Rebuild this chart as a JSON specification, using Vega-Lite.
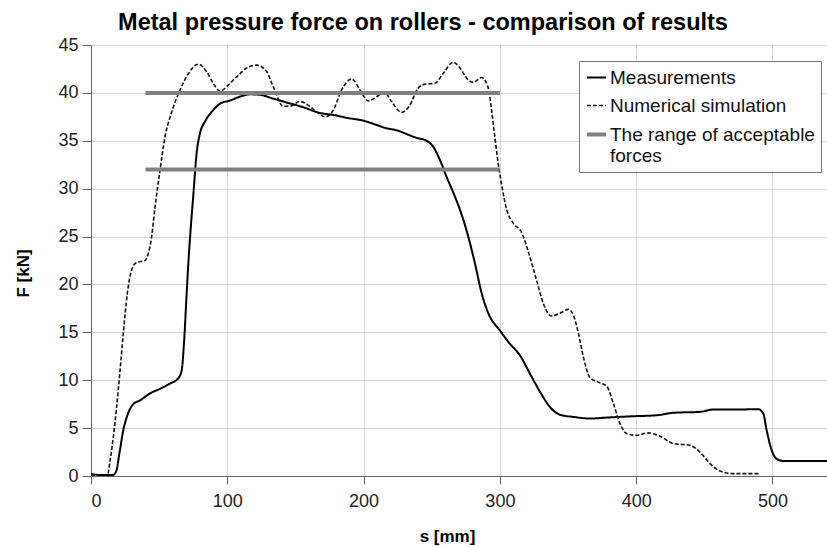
{
  "$schema": "https://vega.github.io/schema/vega-lite/v6.json",
  "autosize": "none",
  "width": 736,
  "height": 431,
  "padding": {"left": 91, "top": 45, "right": 0, "bottom": 71},
  "background": "white",
  "title": {
    "text": "Metal pressure force on rollers - comparison of results",
    "font": "Liberation Sans",
    "fontSize": 23.5,
    "fontWeight": "bold",
    "color": "#000000",
    "anchor": "middle",
    "dx": -36,
    "dy": 2
  },
  "config": {
    "view": {"stroke": null},
    "axis": {
      "labelFont": "Liberation Sans",
      "labelFontSize": 18,
      "labelColor": "#222222",
      "titleFont": "Liberation Sans",
      "titleFontSize": 17,
      "titleFontWeight": "bold",
      "titleColor": "#000000",
      "domainColor": "#666666",
      "tickColor": "#666666",
      "gridColor": "#d6d6d6",
      "gridWidth": 1
    }
  },
  "data": {
    "values": [
      {"series": "Measurements", "seg": "m", "s": 0, "F": 0.2},
      {"series": "Measurements", "seg": "m", "s": 8, "F": 0.1},
      {"series": "Measurements", "seg": "m", "s": 16, "F": 0.1},
      {"series": "Measurements", "seg": "m", "s": 18.5, "F": 0.5},
      {"series": "Measurements", "seg": "m", "s": 21, "F": 2.5},
      {"series": "Measurements", "seg": "m", "s": 23.7, "F": 4.8},
      {"series": "Measurements", "seg": "m", "s": 26.6, "F": 6.3},
      {"series": "Measurements", "seg": "m", "s": 31, "F": 7.5},
      {"series": "Measurements", "seg": "m", "s": 36, "F": 7.9},
      {"series": "Measurements", "seg": "m", "s": 43, "F": 8.6},
      {"series": "Measurements", "seg": "m", "s": 50.5, "F": 9.1},
      {"series": "Measurements", "seg": "m", "s": 58, "F": 9.65},
      {"series": "Measurements", "seg": "m", "s": 64, "F": 10.2},
      {"series": "Measurements", "seg": "m", "s": 66.5, "F": 11},
      {"series": "Measurements", "seg": "m", "s": 68.2, "F": 13.8},
      {"series": "Measurements", "seg": "m", "s": 70.2, "F": 19.1},
      {"series": "Measurements", "seg": "m", "s": 71.5, "F": 22.4},
      {"series": "Measurements", "seg": "m", "s": 73.5, "F": 26.5},
      {"series": "Measurements", "seg": "m", "s": 75, "F": 29.2},
      {"series": "Measurements", "seg": "m", "s": 77.5, "F": 33.7},
      {"series": "Measurements", "seg": "m", "s": 80, "F": 35.8},
      {"series": "Measurements", "seg": "m", "s": 83.6, "F": 37},
      {"series": "Measurements", "seg": "m", "s": 89.7, "F": 38.2},
      {"series": "Measurements", "seg": "m", "s": 95, "F": 38.9},
      {"series": "Measurements", "seg": "m", "s": 102, "F": 39.2},
      {"series": "Measurements", "seg": "m", "s": 109, "F": 39.6},
      {"series": "Measurements", "seg": "m", "s": 116.7, "F": 39.85},
      {"series": "Measurements", "seg": "m", "s": 124, "F": 39.8},
      {"series": "Measurements", "seg": "m", "s": 133.7, "F": 39.4},
      {"series": "Measurements", "seg": "m", "s": 143.5, "F": 39},
      {"series": "Measurements", "seg": "m", "s": 155.8, "F": 38.5},
      {"series": "Measurements", "seg": "m", "s": 168, "F": 37.9},
      {"series": "Measurements", "seg": "m", "s": 177.8, "F": 37.7},
      {"series": "Measurements", "seg": "m", "s": 187.6, "F": 37.4},
      {"series": "Measurements", "seg": "m", "s": 199.8, "F": 37.1},
      {"series": "Measurements", "seg": "m", "s": 209.6, "F": 36.65},
      {"series": "Measurements", "seg": "m", "s": 216.9, "F": 36.3},
      {"series": "Measurements", "seg": "m", "s": 224.3, "F": 36.1},
      {"series": "Measurements", "seg": "m", "s": 231.6, "F": 35.7},
      {"series": "Measurements", "seg": "m", "s": 239, "F": 35.3},
      {"series": "Measurements", "seg": "m", "s": 246.3, "F": 35},
      {"series": "Measurements", "seg": "m", "s": 251, "F": 34.4},
      {"series": "Measurements", "seg": "m", "s": 256, "F": 33},
      {"series": "Measurements", "seg": "m", "s": 261, "F": 31.2},
      {"series": "Measurements", "seg": "m", "s": 265.8, "F": 29.6},
      {"series": "Measurements", "seg": "m", "s": 270.7, "F": 27.8},
      {"series": "Measurements", "seg": "m", "s": 276, "F": 25.4},
      {"series": "Measurements", "seg": "m", "s": 281.7, "F": 22.2},
      {"series": "Measurements", "seg": "m", "s": 286.6, "F": 19.1},
      {"series": "Measurements", "seg": "m", "s": 291.5, "F": 17},
      {"series": "Measurements", "seg": "m", "s": 300, "F": 15.2},
      {"series": "Measurements", "seg": "m", "s": 307.4, "F": 13.8},
      {"series": "Measurements", "seg": "m", "s": 314.7, "F": 12.6},
      {"series": "Measurements", "seg": "m", "s": 322, "F": 10.7},
      {"series": "Measurements", "seg": "m", "s": 329.4, "F": 8.8},
      {"series": "Measurements", "seg": "m", "s": 336.8, "F": 7.2},
      {"series": "Measurements", "seg": "m", "s": 344, "F": 6.4},
      {"series": "Measurements", "seg": "m", "s": 353.9, "F": 6.17},
      {"series": "Measurements", "seg": "m", "s": 366, "F": 6.0},
      {"series": "Measurements", "seg": "m", "s": 378.4, "F": 6.1},
      {"series": "Measurements", "seg": "m", "s": 397.9, "F": 6.24},
      {"series": "Measurements", "seg": "m", "s": 415, "F": 6.34},
      {"series": "Measurements", "seg": "m", "s": 427.2, "F": 6.6},
      {"series": "Measurements", "seg": "m", "s": 446.8, "F": 6.7},
      {"series": "Measurements", "seg": "m", "s": 456.6, "F": 6.94},
      {"series": "Measurements", "seg": "m", "s": 471.2, "F": 6.94},
      {"series": "Measurements", "seg": "m", "s": 489.6, "F": 6.97},
      {"series": "Measurements", "seg": "m", "s": 493.3, "F": 6.5},
      {"series": "Measurements", "seg": "m", "s": 495.7, "F": 4.8},
      {"series": "Measurements", "seg": "m", "s": 499.4, "F": 2.7},
      {"series": "Measurements", "seg": "m", "s": 503, "F": 1.8},
      {"series": "Measurements", "seg": "m", "s": 508, "F": 1.57},
      {"series": "Measurements", "seg": "m", "s": 540, "F": 1.57},

      {"series": "Numerical simulation", "seg": "n", "s": 0, "F": 0.1},
      {"series": "Numerical simulation", "seg": "n", "s": 12, "F": 0.1},
      {"series": "Numerical simulation", "seg": "n", "s": 14, "F": 1.6},
      {"series": "Numerical simulation", "seg": "n", "s": 16.4, "F": 4.1},
      {"series": "Numerical simulation", "seg": "n", "s": 18.8, "F": 7.2},
      {"series": "Numerical simulation", "seg": "n", "s": 21.3, "F": 11},
      {"series": "Numerical simulation", "seg": "n", "s": 23.7, "F": 14.9},
      {"series": "Numerical simulation", "seg": "n", "s": 26.6, "F": 19},
      {"series": "Numerical simulation", "seg": "n", "s": 29.8, "F": 21.5},
      {"series": "Numerical simulation", "seg": "n", "s": 33.5, "F": 22.3},
      {"series": "Numerical simulation", "seg": "n", "s": 39.6, "F": 22.5},
      {"series": "Numerical simulation", "seg": "n", "s": 42, "F": 23.2},
      {"series": "Numerical simulation", "seg": "n", "s": 44.5, "F": 25},
      {"series": "Numerical simulation", "seg": "n", "s": 47, "F": 28.1},
      {"series": "Numerical simulation", "seg": "n", "s": 50.6, "F": 31.9},
      {"series": "Numerical simulation", "seg": "n", "s": 54.3, "F": 35.4},
      {"series": "Numerical simulation", "seg": "n", "s": 59.2, "F": 38},
      {"series": "Numerical simulation", "seg": "n", "s": 65.3, "F": 40.3},
      {"series": "Numerical simulation", "seg": "n", "s": 71.4, "F": 42},
      {"series": "Numerical simulation", "seg": "n", "s": 78.7, "F": 43},
      {"series": "Numerical simulation", "seg": "n", "s": 84.9, "F": 42.2},
      {"series": "Numerical simulation", "seg": "n", "s": 89.7, "F": 41},
      {"series": "Numerical simulation", "seg": "n", "s": 94.6, "F": 40.2},
      {"series": "Numerical simulation", "seg": "n", "s": 100.7, "F": 40.8},
      {"series": "Numerical simulation", "seg": "n", "s": 104.4, "F": 41.35},
      {"series": "Numerical simulation", "seg": "n", "s": 109.3, "F": 42},
      {"series": "Numerical simulation", "seg": "n", "s": 114.2, "F": 42.6},
      {"series": "Numerical simulation", "seg": "n", "s": 121.6, "F": 42.9},
      {"series": "Numerical simulation", "seg": "n", "s": 128.9, "F": 42.2},
      {"series": "Numerical simulation", "seg": "n", "s": 133.7, "F": 40.65},
      {"series": "Numerical simulation", "seg": "n", "s": 141.1, "F": 38.6},
      {"series": "Numerical simulation", "seg": "n", "s": 146, "F": 38.6},
      {"series": "Numerical simulation", "seg": "n", "s": 153.3, "F": 39.1},
      {"series": "Numerical simulation", "seg": "n", "s": 159.5, "F": 38.7},
      {"series": "Numerical simulation", "seg": "n", "s": 165.6, "F": 38},
      {"series": "Numerical simulation", "seg": "n", "s": 171.7, "F": 37.5},
      {"series": "Numerical simulation", "seg": "n", "s": 177.8, "F": 38.2},
      {"series": "Numerical simulation", "seg": "n", "s": 183.9, "F": 40.3},
      {"series": "Numerical simulation", "seg": "n", "s": 191.3, "F": 41.45},
      {"series": "Numerical simulation", "seg": "n", "s": 197.4, "F": 40.3},
      {"series": "Numerical simulation", "seg": "n", "s": 203.5, "F": 39.15},
      {"series": "Numerical simulation", "seg": "n", "s": 209.6, "F": 39.6},
      {"series": "Numerical simulation", "seg": "n", "s": 215.2, "F": 40.06},
      {"series": "Numerical simulation", "seg": "n", "s": 220.5, "F": 39.1},
      {"series": "Numerical simulation", "seg": "n", "s": 227.9, "F": 37.97},
      {"series": "Numerical simulation", "seg": "n", "s": 233.9, "F": 38.7},
      {"series": "Numerical simulation", "seg": "n", "s": 240, "F": 40.5},
      {"series": "Numerical simulation", "seg": "n", "s": 245, "F": 40.9},
      {"series": "Numerical simulation", "seg": "n", "s": 252.4, "F": 41},
      {"series": "Numerical simulation", "seg": "n", "s": 258.5, "F": 42.05},
      {"series": "Numerical simulation", "seg": "n", "s": 265.8, "F": 43.2},
      {"series": "Numerical simulation", "seg": "n", "s": 270.7, "F": 42.6},
      {"series": "Numerical simulation", "seg": "n", "s": 276.8, "F": 41.35},
      {"series": "Numerical simulation", "seg": "n", "s": 280.5, "F": 41.1},
      {"series": "Numerical simulation", "seg": "n", "s": 286.6, "F": 41.6},
      {"series": "Numerical simulation", "seg": "n", "s": 289.5, "F": 41.2},
      {"series": "Numerical simulation", "seg": "n", "s": 292.2, "F": 40},
      {"series": "Numerical simulation", "seg": "n", "s": 293.9, "F": 38.2},
      {"series": "Numerical simulation", "seg": "n", "s": 296.3, "F": 35.4},
      {"series": "Numerical simulation", "seg": "n", "s": 298.8, "F": 32.6},
      {"series": "Numerical simulation", "seg": "n", "s": 301.3, "F": 30.4},
      {"series": "Numerical simulation", "seg": "n", "s": 305, "F": 27.8},
      {"series": "Numerical simulation", "seg": "n", "s": 309.8, "F": 26.4},
      {"series": "Numerical simulation", "seg": "n", "s": 316, "F": 25.4},
      {"series": "Numerical simulation", "seg": "n", "s": 320.9, "F": 23.4},
      {"series": "Numerical simulation", "seg": "n", "s": 327, "F": 20.4},
      {"series": "Numerical simulation", "seg": "n", "s": 331.9, "F": 18},
      {"series": "Numerical simulation", "seg": "n", "s": 338, "F": 16.7},
      {"series": "Numerical simulation", "seg": "n", "s": 344, "F": 17},
      {"series": "Numerical simulation", "seg": "n", "s": 350.3, "F": 17.4},
      {"series": "Numerical simulation", "seg": "n", "s": 353.9, "F": 16.8},
      {"series": "Numerical simulation", "seg": "n", "s": 357.6, "F": 14.9},
      {"series": "Numerical simulation", "seg": "n", "s": 361.3, "F": 12.4},
      {"series": "Numerical simulation", "seg": "n", "s": 366, "F": 10.3},
      {"series": "Numerical simulation", "seg": "n", "s": 372.2, "F": 9.8},
      {"series": "Numerical simulation", "seg": "n", "s": 378.4, "F": 9.37},
      {"series": "Numerical simulation", "seg": "n", "s": 383.3, "F": 7.56},
      {"series": "Numerical simulation", "seg": "n", "s": 388.1, "F": 5.47},
      {"series": "Numerical simulation", "seg": "n", "s": 393, "F": 4.43},
      {"series": "Numerical simulation", "seg": "n", "s": 400.4, "F": 4.25},
      {"series": "Numerical simulation", "seg": "n", "s": 408.9, "F": 4.5},
      {"series": "Numerical simulation", "seg": "n", "s": 417.5, "F": 4.15},
      {"series": "Numerical simulation", "seg": "n", "s": 427.2, "F": 3.39},
      {"series": "Numerical simulation", "seg": "n", "s": 439.5, "F": 3.2},
      {"series": "Numerical simulation", "seg": "n", "s": 446.8, "F": 2.5},
      {"series": "Numerical simulation", "seg": "n", "s": 454.2, "F": 1.3},
      {"series": "Numerical simulation", "seg": "n", "s": 461.5, "F": 0.52},
      {"series": "Numerical simulation", "seg": "n", "s": 471.2, "F": 0.25},
      {"series": "Numerical simulation", "seg": "n", "s": 490.8, "F": 0.25},

      {"series": "The range of acceptable forces", "seg": "upper", "s": 40, "F": 40},
      {"series": "The range of acceptable forces", "seg": "upper", "s": 300, "F": 40},
      {"series": "The range of acceptable forces", "seg": "lower", "s": 40, "F": 32},
      {"series": "The range of acceptable forces", "seg": "lower", "s": 300, "F": 32}
    ]
  },
  "mark": {"type": "line", "interpolate": "monotone", "clip": true},
  "encoding": {
    "x": {
      "field": "s",
      "type": "quantitative",
      "scale": {"domain": [0, 540], "nice": false, "zero": false},
      "axis": {
        "values": [0, 100, 200, 300, 400, 500],
        "title": "s [mm]",
        "grid": true,
        "tickSize": 8,
        "labelPadding": 8,
        "titleX": 356,
        "titleY": 60,
        "titleBaseline": "middle",
        "titleAlign": "center"
      }
    },
    "y": {
      "field": "F",
      "type": "quantitative",
      "scale": {"domain": [0, 45], "nice": false},
      "axis": {
        "values": [0, 5, 10, 15, 20, 25, 30, 35, 40, 45],
        "title": "F [kN]",
        "grid": true,
        "tickSize": 9,
        "labelPadding": 4,
        "titleAngle": 270,
        "titleX": -68,
        "titleY": 228,
        "titleBaseline": "middle",
        "titleAlign": "center"
      }
    },
    "detail": {"field": "seg"},
    "stroke": {
      "field": "series",
      "type": "nominal",
      "scale": {
        "domain": ["Measurements", "Numerical simulation", "The range of acceptable forces"],
        "range": ["#000000", "#111111", "#808080"]
      },
      "legend": {
        "title": null,
        "orient": "none",
        "legendX": 488,
        "legendY": 16,
        "direction": "vertical",
        "strokeColor": "#777777",
        "fillColor": "#ffffff",
        "padding": 6,
        "symbolType": "stroke",
        "symbolSize": 361,
        "labelFont": "Liberation Sans",
        "labelFontSize": 19,
        "labelColor": "#111111",
        "labelOffset": 2,
        "labelLimit": 400,
        "rowPadding": 7,
        "labelExpr": "datum.label == 'The range of acceptable forces' ? ['The range of acceptable', 'forces'] : datum.label"
      }
    },
    "strokeDash": {
      "field": "series",
      "type": "nominal",
      "scale": {
        "domain": ["Measurements", "Numerical simulation", "The range of acceptable forces"],
        "range": [[1, 0], [4, 2], [1, 0]]
      }
    },
    "strokeWidth": {
      "field": "series",
      "type": "nominal",
      "scale": {
        "type": "ordinal",
        "domain": ["Measurements", "Numerical simulation", "The range of acceptable forces"],
        "range": [2, 1.6, 4]
      }
    }
  }
}
